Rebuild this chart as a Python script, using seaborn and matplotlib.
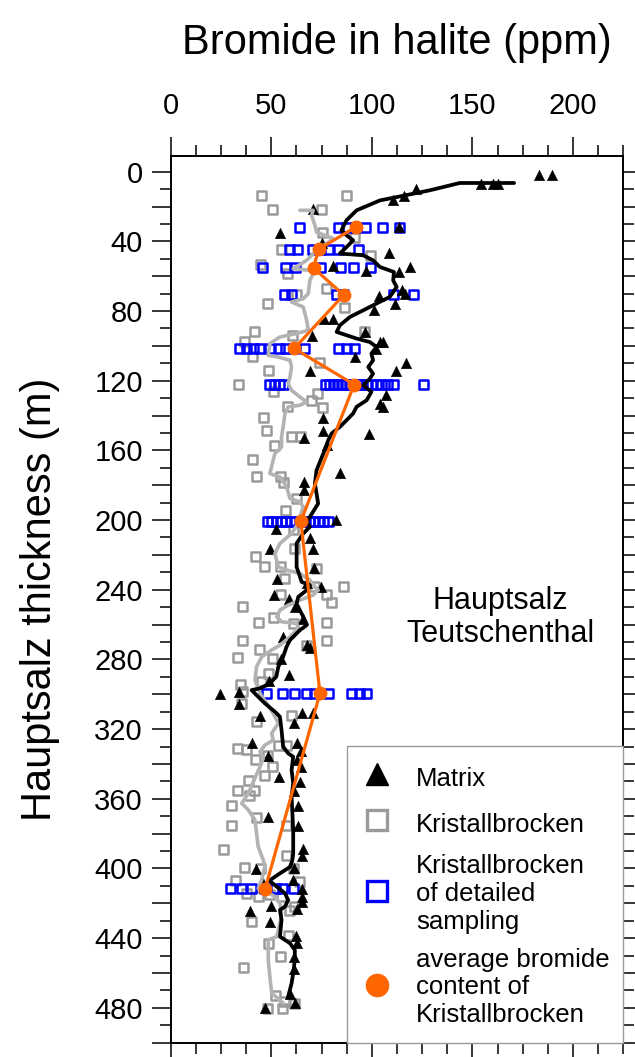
import numpy as np
import pandas as pd
import matplotlib
matplotlib.use("Agg")
import matplotlib.pyplot as plt
from matplotlib.ticker import MultipleLocator, FuncFormatter
from matplotlib.lines import Line2D
import seaborn as sns

# ---------------- data ----------------
# Matrix samples (Br ppm, depth m)
matrix_x = [183.1, 189.6, 154.5, 160.3, 162.8, 121.9, 116.2, 110.3, 113.4, 70.8, 54.3, 75.0,
            108.4, 80.6, 119.0, 113.6, 97.0, 115.2, 116.4, 103.6, 111.6, 101.3, 76.2, 80.6,
            96.8, 70.0, 103.8, 105.3, 102.3, 91.8, 116.9, 112.1, 69.5, 106.8, 104.0, 105.5,
            75.6, 75.5, 98.8, 66.3, 77.5, 84.4, 66.5, 66.5, 82.1, 52.5, 69.2, 70.6, 49.5,
            71.3, 52.8, 67.6, 74.6, 51.3, 58.9, 62.0, 65.9, 55.9, 67.6, 69.2, 55.0, 58.9,
            48.9, 24.6, 33.8, 34.2, 44.2, 65.1, 70.8, 61.1, 40.2, 62.6, 64.6, 48.2, 62.6,
            64.9, 53.6, 64.2, 61.3, 63.4, 48.2, 63.4, 65.7, 65.1, 42.3, 61.5, 45.2, 60.8,
            65.1, 65.1, 65.4, 49.9, 62.6, 39.2, 49.2, 62.2, 62.6, 61.5, 61.2, 59.3, 61.8, 46.8]
matrix_y = [2.1, 2.1, 6.9, 6.9, 7.3, 9.8, 13.9, 16.0, 31.8, 21.2, 35.2, 40.9,
            46.8, 54.0, 55.0, 57.6, 57.0, 68.1, 70.0, 71.4, 75.7, 79.6, 84.6, 84.6,
            92.0, 94.5, 97.8, 97.8, 101.6, 106.4, 110.0, 114.4, 114.2, 128.3, 133.1, 135.0,
            141.3, 148.6, 150.7, 152.8, 157.0, 172.9, 178.2, 183.0, 199.7, 205.4, 210.1, 216.5, 216.5,
            227.6, 233.8, 236.4, 238.3, 242.8, 245.5, 249.8, 257.0, 267.0, 271.8, 273.7, 279.7, 288.7,
            292.5, 299.6, 298.8, 305.4, 312.2, 311.0, 311.0, 316.5, 327.7, 327.8, 332.7, 335.2, 337.6,
            342.0, 347.3, 350.2, 355.6, 364.3, 370.7, 375.6, 388.7, 392.8, 400.5, 400.0, 407.1, 406.5,
            411.7, 416.2, 419.1, 421.3, 423.2, 424.3, 430.5, 438.5, 442.8, 450.6, 457.5, 472.1, 477.2, 480.2]

# Matrix running average (black line)
matrix_avg_x = [170.7, 143.7, 128.8, 112.3, 104.0, 92.4, 87.4, 84.9, 87.4, 90.7, 87.4, 84.1, 95.7,
                100.6, 104.0, 111.0, 110.6, 112.3, 108.9, 102.3, 95.7, 89.1, 84.1, 82.5, 87.4,
                92.4, 99.0, 102.3, 99.8, 100.6, 98.2, 100.6, 99.0, 95.7, 99.8, 97.4, 92.4, 90.7,
                87.4, 84.1, 80.0, 78.3, 76.5, 72.5, 71.7, 73.3, 69.2, 67.6, 69.2, 65.9, 62.6,
                62.6, 65.1, 69.2, 67.6, 63.4, 62.6, 64.2, 65.9, 67.6, 64.2, 59.3, 57.6, 55.9,
                53.5, 52.5, 49.3, 44.4, 40.2, 42.7, 46.8, 51.8, 54.3, 55.1, 55.9, 58.4, 60.9,
                60.1, 60.9, 60.1, 60.9, 60.9, 60.5, 59.5, 54.3, 49.0, 52.7, 56.8, 58.4, 56.8,
                54.3, 55.1, 54.3, 59.3, 61.7, 61.7, 60.9, 60.1, 58.4]
matrix_avg_y = [6.5, 6.5, 10.7, 14.6, 16.5, 22.2, 27.9, 33.7, 36.5, 39.4, 43.3, 47.0, 48.0,
                50.9, 54.7, 57.6, 62.4, 66.2, 71.9, 75.7, 79.6, 83.4, 88.2, 92.0, 93.9,
                95.8, 97.8, 100.6, 104.4, 108.3, 112.1, 115.9, 118.8, 122.6, 126.4, 131.2, 135.0, 138.8,
                142.7, 146.5, 150.3, 154.2, 160.0, 171.4, 179.0, 190.5, 198.2, 201.0, 203.9, 207.7, 213.4,
                226.9, 235.5, 237.4, 240.2, 244.1, 248.0, 251.7, 255.5, 260.3, 263.2, 268.9, 272.7, 278.5,
                284.2, 289.9, 293.7, 296.6, 297.6, 300.5, 305.2, 310.0, 312.9, 320.5, 330.1, 333.9, 335.9,
                343.5, 351.1, 358.8, 377.9, 391.3, 395.1, 399.0, 402.8, 407.0, 410.4, 414.2, 418.1, 421.9,
                423.8, 429.5, 439.1, 442.9, 446.8, 452.5, 460.1, 465.9, 473.5]

# Kristallbrocken samples (grey squares)
kb_x = [45.2, 87.4, 50.5, 75.0, 75.6, 91.6, 55.1, 99.2, 44.4, 57.9, 77.5, 62.6, 48.0, 86.6,
        41.9, 36.9, 96.5, 60.5, 40.7, 73.8, 48.5, 33.8, 51.2, 72.9, 70.0, 75.3, 57.9, 46.0,
        47.7, 60.1, 64.6, 51.6, 40.7, 42.7, 54.8, 55.9, 62.6, 57.3, 61.2, 61.4, 42.4, 46.8,
        54.6, 72.5, 56.8, 54.8, 85.9, 71.7, 77.5, 80.0, 35.8, 43.5, 51.3, 60.9, 77.7, 35.6,
        44.2, 33.3, 50.4, 77.4, 67.6, 48.8, 45.2, 34.6, 35.6, 35.3, 42.8, 60.3, 33.2, 37.9,
        53.5, 57.6, 42.4, 48.2, 50.8, 46.8, 38.5, 33.2, 41.6, 39.0, 30.3, 42.7, 30.3, 57.8,
        26.3, 57.8, 36.8, 44.4, 60.9, 32.2, 64.2, 37.8, 43.8, 49.3, 55.1, 59.3, 61.3, 40.2,
        58.4, 48.8, 54.6, 36.2, 52.3, 56.8, 61.7, 55.8, 48.3]
kb_y = [13.7, 13.7, 22.0, 22.0, 35.0, 37.9, 44.5, 48.4, 53.5, 58.2, 67.0, 70.6, 75.6, 78.2,
        91.8, 97.6, 92.0, 93.9, 106.2, 109.5, 114.0, 122.3, 126.1, 127.6, 131.4, 135.2, 134.9, 141.0,
        148.7, 152.3, 152.3, 157.2, 165.4, 175.2, 175.2, 178.2, 187.6, 194.3, 205.6, 216.3, 221.1, 226.4,
        226.4, 227.8, 233.5, 242.5, 238.2, 238.3, 242.8, 247.5, 249.6, 259.0, 256.0, 259.4, 259.0, 269.4,
        274.3, 278.9, 279.4, 269.1, 271.8, 287.8, 292.4, 294.5, 298.2, 305.4, 315.9, 312.2, 331.0, 331.5,
        329.2, 329.2, 337.3, 335.0, 341.4, 346.9, 349.5, 355.2, 355.2, 357.9, 364.0, 370.8, 375.5, 375.5,
        388.9, 392.5, 399.6, 399.9, 399.9, 406.8, 407.6, 414.6, 416.2, 415.2, 416.2, 424.3, 421.9, 430.2,
        438.2, 443.1, 450.4, 457.1, 473.1, 476.4, 477.5, 480.4, 480.2]

# Kristallbrocken running average (grey line)
kb_avg_x = [64.2, 70.8, 70.0, 71.7, 72.5, 80.8, 77.5, 72.5, 67.6, 60.9, 69.2, 70.8, 69.2, 68.4,
            65.9, 60.1, 65.9, 67.6, 68.4, 62.6, 54.3, 49.3, 48.5, 53.5, 59.3, 60.1, 59.3, 58.4,
            60.1, 64.2, 67.6, 64.2, 58.4, 56.8, 55.9, 55.1, 55.1, 51.8, 49.3, 54.3, 57.6, 59.3,
            64.2, 65.9, 64.2, 63.4, 60.1, 54.3, 51.8, 53.5, 57.6, 64.2, 69.2, 71.7, 73.3, 70.8,
            64.2, 58.4, 54.3, 52.7, 55.1, 62.6, 63.4, 59.3, 54.3, 50.2, 45.2, 42.7, 41.9, 44.4,
            47.7, 51.0, 53.5, 50.2, 51.0, 46.8, 44.4, 46.0, 44.4, 41.1, 38.6, 35.3, 38.6, 41.9,
            42.7, 43.5, 46.0, 46.8, 45.2, 43.5, 47.7, 51.8, 54.3, 55.1, 54.3, 52.7, 48.5, 48.5,
            49.3, 50.2, 54.3, 55.9]
kb_avg_y = [22.2, 22.2, 25.1, 30.8, 34.7, 38.4, 41.3, 45.2, 50.9, 55.7, 56.6, 58.5, 62.4, 70.0,
            72.9, 74.8, 77.7, 85.3, 91.0, 92.9, 94.9, 98.7, 105.4, 106.4, 108.3, 112.1, 117.8, 121.6,
            125.5, 129.3, 132.2, 134.1, 135.0, 138.8, 146.5, 152.3, 158.0, 161.8, 173.3, 175.2, 180.9, 187.6,
            189.5, 192.4, 198.2, 201.9, 207.7, 213.4, 219.2, 226.9, 228.7, 230.6, 234.5, 238.3, 240.2, 243.1,
            246.0, 248.8, 251.7, 255.5, 258.4, 259.3, 262.2, 267.0, 271.8, 274.6, 278.5, 284.2, 291.9, 299.5,
            305.2, 311.0, 316.7, 322.4, 326.3, 329.2, 333.0, 336.8, 341.6, 350.2, 356.9, 362.6, 366.4, 372.2,
            379.8, 387.5, 395.1, 399.0, 406.6, 411.4, 413.3, 416.2, 420.0, 425.8, 431.4, 439.1, 441.0, 452.4,
            462.0, 471.6, 475.5, 477.3]

# Kristallbrocken of detailed sampling (blue squares), one list per sampled level
detail_depths = [31.8, 44.6, 55.3, 70.8, 101.5, 122.2, 200.7, 299.5, 411.5]
detail_values = [
    [64.0, 83.3, 87.4, 92.0, 97.0, 105.1, 113.6],
    [58.9, 63.1, 70.3, 74.5, 78.6, 83.3, 93.5],
    [45.7, 57.3, 61.8, 74.5, 84.5, 91.0, 99.3],
    [56.8, 60.1, 82.5, 85.8, 110.6, 120.5],
    [34.4, 37.8, 41.1, 44.0, 49.3, 54.3, 57.3, 61.0, 66.7, 83.3, 87.4, 91.6],
    [49.3, 51.8, 54.3, 55.9, 77.0, 79.0, 81.0, 83.0, 85.0, 87.0, 89.0, 91.0, 93.0, 95.0,
     97.5, 100.0, 102.5, 105.0, 108.0, 111.0, 125.8],
    [48.0, 50.0, 52.5, 55.0, 57.0, 59.5, 62.0, 64.5, 67.0, 69.0, 71.0, 73.5, 76.0, 78.5],
    [47.7, 55.6, 61.3, 67.6, 71.7, 78.3, 89.9, 93.7, 97.4],
    [29.6, 35.3, 40.2, 46.8, 52.2, 55.7, 61.0],
]

# Average bromide content of Kristallbrocken (orange)
mean_x = [92.0, 73.5, 71.0, 86.0, 61.4, 91.2, 64.7, 74.2, 47.0]
mean_y = [31.8, 44.6, 55.3, 70.8, 101.5, 122.2, 200.7, 299.5, 411.5]

legend_labels = ["Matrix", "Kristallbrocken", "Kristallbrocken\nof detailed\nsampling",
                 "average bromide\ncontent of\nKristallbrocken"]
xlabel_text = "Bromide in halite (ppm)"
ylabel_text = "Hauptsalz thickness (m)"
note_text = "Hauptsalz\nTeutschenthal"

# ---------------- tables ----------------
df_matrix = pd.DataFrame({"br": matrix_x, "depth": matrix_y})
df_matrix_avg = pd.DataFrame({"br": matrix_avg_x, "depth": matrix_avg_y})
df_kb = pd.DataFrame({"br": kb_x, "depth": kb_y})
df_kb_avg = pd.DataFrame({"br": kb_avg_x, "depth": kb_avg_y})
df_detail = pd.DataFrame({
    "br": [v for vals in detail_values for v in vals],
    "depth": [d for d, vals in zip(detail_depths, detail_values) for _ in vals],
})
df_mean = pd.DataFrame({"br": mean_x, "depth": mean_y})

# ---------------- style ----------------
sns.set_style("white")
plt.rcParams["font.family"] = ["Liberation Sans", "DejaVu Sans"]
for key in ["text.color", "axes.labelcolor", "xtick.color", "ytick.color"]:
    plt.rcParams[key] = "black"

BLACK = "#000000"
GREY_PT = "#9a9a9a"
GREY_LN = "#b3b3b3"
BLUE = "#0000ff"
ORANGE = "#ff6600"

fig = plt.figure(figsize=(6.35, 10.57), dpi=100)
ax = fig.add_axes([0.2688, 0.01353, 0.7128, 0.8389])

sns.scatterplot(data=df_kb, x="br", y="depth", ax=ax, marker="s", s=42,
                color=GREY_PT, facecolor="none", edgecolor=GREY_PT, linewidth=1.8,
                zorder=2, legend=False)
sns.scatterplot(data=df_detail, x="br", y="depth", ax=ax, marker="s", s=42,
                color=BLUE, facecolor="none", edgecolor=BLUE, linewidth=1.8,
                zorder=3, legend=False)
sns.scatterplot(data=df_matrix, x="br", y="depth", ax=ax, marker="^", s=58,
                color=BLACK, edgecolor=BLACK, linewidth=0.3, zorder=4, legend=False)
sns.lineplot(data=df_kb_avg, x="br", y="depth", ax=ax, sort=False, estimator=None,
             color=GREY_LN, linewidth=2.6, zorder=5, legend=False)
sns.lineplot(data=df_matrix_avg, x="br", y="depth", ax=ax, sort=False, estimator=None,
             color=BLACK, linewidth=2.7, zorder=6, legend=False)
sns.lineplot(data=df_mean, x="br", y="depth", ax=ax, sort=False, estimator=None,
             color=ORANGE, linewidth=2.3, marker="o", markersize=10,
             markeredgewidth=0, zorder=7, legend=False)

# ---------------- axes ----------------
ax.set_xlim(0, 225)
ax.set_ylim(500, -9)
ax.xaxis.tick_top()
ax.xaxis.set_label_position("top")
ax.set_xlabel(xlabel_text, fontsize=30, labelpad=27)
ax.set_ylabel(ylabel_text, fontsize=30, labelpad=25)

ax.xaxis.set_major_locator(MultipleLocator(50))
ax.xaxis.set_minor_locator(MultipleLocator(12.5))
ax.yaxis.set_major_locator(MultipleLocator(20))
ax.yaxis.set_minor_locator(MultipleLocator(10))
ax.xaxis.set_major_formatter(FuncFormatter(lambda v, p: f"{v:.0f}" if v <= 200 else ""))
ax.yaxis.set_major_formatter(FuncFormatter(
    lambda v, p: f"{v:.0f}" if (0 <= v <= 480 and int(round(v)) % 40 == 0) else ""))

ax.tick_params(which="both", direction="out", top=True, bottom=True, left=True, right=True,
               labeltop=True, labelbottom=False, labelleft=True, labelright=False,
               color=BLACK, width=1.1)
ax.tick_params(which="major", length=14, labelsize=21)
ax.tick_params(axis="x", which="major", pad=12)
ax.tick_params(axis="y", which="major", pad=6)
ax.tick_params(which="minor", length=8)
for side in ["top", "bottom", "left", "right"]:
    ax.spines[side].set_visible(True)
    ax.spines[side].set_color(BLACK)
    ax.spines[side].set_linewidth(1.4)

ax.text(164, 256, note_text, ha="center", va="center", fontsize=22, linespacing=1.1)

handles = [
    Line2D([], [], linestyle="none", marker="^", markersize=16, color=BLACK),
    Line2D([], [], linestyle="none", marker="s", markersize=15, markerfacecolor="none",
           markeredgecolor=GREY_PT, markeredgewidth=2.4),
    Line2D([], [], linestyle="none", marker="s", markersize=15, markerfacecolor="none",
           markeredgecolor=BLUE, markeredgewidth=2.4),
    Line2D([], [], linestyle="none", marker="o", markersize=16, color=ORANGE),
]
leg = ax.legend(handles, legend_labels, loc="lower left",
                bbox_to_anchor=(0.3895, 0.0, 0.6105, 0.3414), mode="expand",
                borderaxespad=0, fontsize=18.5, frameon=True, fancybox=False,
                edgecolor="#999999", framealpha=1, handlelength=1.1, handleheight=1.55,
                handletextpad=1.0, labelspacing=0.55, borderpad=0.6)
leg.get_frame().set_linewidth(1.0)
leg.set_zorder(10)

fig.savefig("out.png", dpi=100)
